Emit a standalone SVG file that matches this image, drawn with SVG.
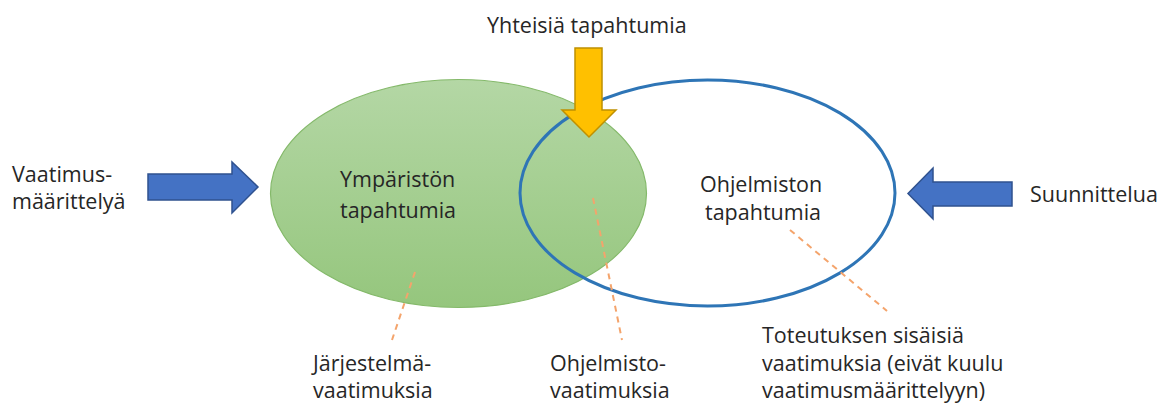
<svg xmlns="http://www.w3.org/2000/svg" width="1173" height="407" viewBox="0 0 1173 407">
  <defs>
    <linearGradient id="greenFill" x1="0" y1="0" x2="0" y2="1">
      <stop offset="0" stop-color="#b4d7a5"/>
      <stop offset="1" stop-color="#95c67d"/>
    </linearGradient>
    <style>
      .txt { font-family: "Open Sans", "Liberation Sans", sans-serif; font-size: 21.5px; fill: #262626; }
      .blueArrow { fill: #4472c4; stroke: #2f528f; stroke-width: 1.5; stroke-linejoin: miter; }
      .leader { fill: none; stroke: #f4a46c; stroke-width: 2; stroke-dasharray: 6 5; }
    </style>
  </defs>
  <rect width="1173" height="407" fill="#ffffff"/>

  <!-- environment events -->
  <g id="ymparisto">
    <ellipse cx="458.5" cy="193.5" rx="188" ry="114" fill="url(#greenFill)" stroke="#84b96a" stroke-width="1.2"/>
    <text class="txt" x="340" y="187">Ympäristön</text>
    <text class="txt" x="340" y="218">tapahtumia</text>
  </g>

  <!-- software events -->
  <g id="ohjelmisto">
    <ellipse cx="707.5" cy="193" rx="187.5" ry="113" fill="none" stroke="#2e75b6" stroke-width="3"/>
    <text class="txt" x="700" y="192">Ohjelmiston</text>
    <text class="txt" x="705" y="220">tapahtumia</text>
  </g>

  <!-- dashed leader lines to the requirement labels -->
  <g id="connectors">
    <line class="leader" x1="415" y1="272" x2="392" y2="340"/>
    <line class="leader" x1="593" y1="198" x2="622" y2="340"/>
    <line class="leader" x1="790" y1="230" x2="887" y2="311"/>
  </g>

  <!-- shared events arrow -->
  <g id="yhteiset">
    <text class="txt" x="487" y="33">Yhteisiä tapahtumia</text>
    <path d="M575,48 H602 V110 H616 L589,137 L562,110 H575 Z" fill="#ffc000" stroke="#bf9000" stroke-width="1.5"/>
  </g>

  <!-- requirements specification arrow -->
  <g id="vaatimusmaarittely">
    <text class="txt" x="12" y="182">Vaatimus-</text>
    <text class="txt" x="12" y="209">määrittelyä</text>
    <path class="blueArrow" d="M148,174 H232 V162 L258,187 L232,213 V200 H148 Z"/>
  </g>

  <!-- design arrow -->
  <g id="suunnittelu">
    <path class="blueArrow" d="M1012,182 H933 V168 L908,193.5 L933,219 V206 H1012 Z"/>
    <text class="txt" x="1030" y="202">Suunnittelua</text>
  </g>

  <g id="jarjestelmavaatimukset">
    <text class="txt" x="313" y="371">Järjestelmä-</text>
    <text class="txt" x="313" y="398">vaatimuksia</text>
  </g>

  <g id="ohjelmistovaatimukset">
    <text class="txt" x="550" y="371">Ohjelmisto-</text>
    <text class="txt" x="550" y="398">vaatimuksia</text>
  </g>

  <g id="toteutusvaatimukset">
    <text class="txt" x="762" y="343">Toteutuksen sisäisiä</text>
    <text class="txt" x="762" y="371">vaatimuksia (eivät kuulu</text>
    <text class="txt" x="762" y="398">vaatimusmäärittelyyn)</text>
  </g>
</svg>
